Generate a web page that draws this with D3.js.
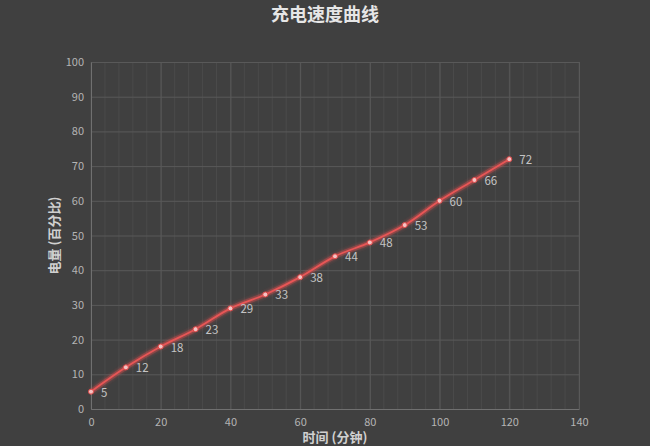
<!DOCTYPE html>
<html><head><meta charset="utf-8">
<script src="https://cdn.jsdelivr.net/npm/d3@7"></script>
<style>
html,body{margin:0;padding:0;background:#404040;}
svg{display:block;}
</style></head>
<body>
<svg id="c" width="650" height="446"></svg>
<script>
const minutes = [0,10,20,30,40,50,60,70,80,90,100,110,120];
const percent = [5,12,18,23,29,33,38,44,48,53,60,66,72];
const xTicks = [0,20,40,60,80,100,120,140];
const yTicks = [0,10,20,30,40,50,60,70,80,90,100];
const xMinor = d3.range(0,141,4);
const title = "充电速度曲线";
const xTitle = "时间 (分钟)";
const yTitle = "电量 (百分比)";

const svg = d3.select("#c");
const W=650,H=446;
const m={l:91,r:71,t:62,b:37};
const x=d3.scaleLinear().domain([0,140]).range([m.l,W-m.r]);
const y=d3.scaleLinear().domain([0,100]).range([H-m.b,m.t]);
const font='"Noto Sans CJK SC","Microsoft YaHei",sans-serif';

svg.append("rect").attr("width",W).attr("height",H).attr("fill","#404040");

const defs=svg.append("defs");
const f=defs.append("filter").attr("id","glow").attr("x","-20%").attr("y","-20%").attr("width","140%").attr("height","140%");
f.append("feGaussianBlur").attr("stdDeviation",2).attr("result","b");
const mg=f.append("feMerge");
mg.append("feMergeNode").attr("in","b");
mg.append("feMergeNode").attr("in","SourceGraphic");

// minor vertical grid
svg.append("g").selectAll("line").data(xMinor).join("line")
  .attr("x1",d=>x(d)).attr("x2",d=>x(d)).attr("y1",y(0)).attr("y2",y(100))
  .attr("stroke","#4a4a4a").attr("stroke-width",1);

// major grid
svg.append("g").call(d3.axisBottom(x).tickValues(xTicks).tickSize(-(y(0)-y(100))).tickFormat(""))
  .attr("transform",`translate(0,${y(0)})`)
  .call(g=>g.select(".domain").remove())
  .call(g=>g.selectAll("line").attr("stroke","#595959"));
svg.append("g").call(d3.axisLeft(y).tickValues(yTicks).tickSize(-(x(140)-x(0))).tickFormat(""))
  .attr("transform",`translate(${x(0)},0)`)
  .call(g=>g.select(".domain").remove())
  .call(g=>g.selectAll("line").attr("stroke","#595959"));

// axes
const xa=svg.append("g").attr("transform",`translate(0,${y(0)})`)
  .call(d3.axisBottom(x).tickValues(xTicks).tickSize(0).tickPadding(9));
const ya=svg.append("g").attr("transform",`translate(${x(0)},0)`)
  .call(d3.axisLeft(y).tickValues(yTicks).tickSize(0).tickPadding(7));
[xa,ya].forEach(a=>{
  a.select(".domain").attr("stroke","#707070");
  a.selectAll("text").attr("fill","#b4b4b4").attr("font-size",11).attr("font-family",font);
});

// line
const line=d3.line().x((d,i)=>x(minutes[i])).y(d=>y(d)).curve(d3.curveCatmullRom.alpha(0.5));
svg.append("path").datum(percent).attr("d",line).attr("fill","none")
  .attr("stroke","#e04848").attr("stroke-opacity",0.3).attr("stroke-width",5);
svg.append("path").datum(percent).attr("d",line).attr("fill","none")
  .attr("stroke","#e85656").attr("stroke-width",1.8).attr("filter","url(#glow)");

svg.append("g").selectAll("circle").data(percent).join("circle")
  .attr("cx",(d,i)=>x(minutes[i])).attr("cy",d=>y(d)).attr("r",2.5)
  .attr("fill","#f6c2c2").attr("stroke","#e04848").attr("stroke-width",1);

svg.append("g").selectAll("text").data(percent).join("text")
  .attr("x",(d,i)=>x(minutes[i])+10).attr("y",d=>y(d)+5)
  .attr("fill","#c4c4c4").attr("font-size",11.5).attr("font-family",font)
  .text(d=>d);

// titles
svg.append("text").attr("x",W/2).attr("y",21).attr("text-anchor","middle")
  .attr("fill","#e6e6e6").attr("font-size",18).attr("font-weight","bold").attr("font-family",font).text(title);
svg.append("text").attr("x",(x(0)+x(140))/2).attr("y",442).attr("text-anchor","middle")
  .attr("fill","#d0d0d0").attr("font-size",13).attr("font-weight","bold").attr("font-family",font).text(xTitle);
svg.append("text").attr("transform",`translate(59,${(y(0)+y(100))/2}) rotate(-90)`).attr("text-anchor","middle")
  .attr("fill","#d0d0d0").attr("font-size",13).attr("font-weight","bold").attr("font-family",font).text(yTitle);
</script>
</body></html>
